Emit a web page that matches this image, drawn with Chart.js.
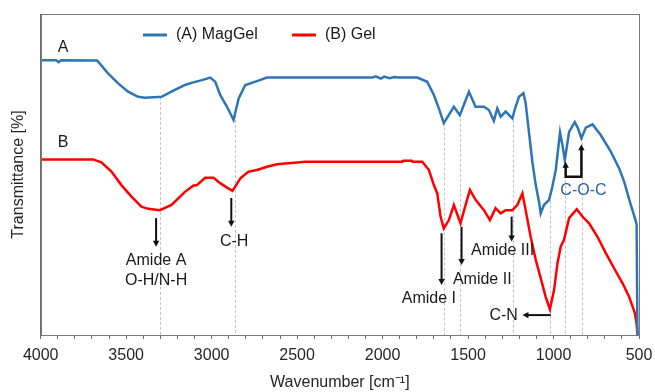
<!DOCTYPE html>
<html>
<head>
<meta charset="utf-8">
<title>FTIR spectra</title>
<script src="https://cdn.jsdelivr.net/npm/chart.js"></script>
<style>
  html, body { margin: 0; padding: 0; background: #fff; }
  #wrap { width: 655px; height: 392px; position: relative; }
</style>
</head>
<body>
<div id="wrap"><canvas id="graph"></canvas></div>
<script>
// wavenumber (cm-1) and transmittance (arbitrary, 0-100)
var magGelWn = [4000, 3910, 3895, 3881, 3670, 3606, 3547, 3489, 3430, 3391,
  3293, 3235, 3156, 3108, 3057, 3008, 2979, 2950, 2910, 2872,
  2842, 2803, 2735, 2676, 2060, 2040, 2010, 1990, 1960, 1930,
  1910, 1797, 1739, 1700, 1671, 1642, 1583, 1548, 1495, 1456,
  1407, 1378, 1349, 1329, 1309, 1280, 1241, 1222, 1202, 1176,
  1163, 1144, 1124, 1104, 1085, 1075, 1056, 1026, 1007, 987,
  962, 948, 934, 909, 876, 857, 837, 811, 772, 724,
  665, 616, 587, 548, 524, 514, 509]
var magGelT = [85.6, 85.6, 85.0, 85.6, 85.5, 81.5, 78.4, 75.8, 74.2, 73.9,
  74.2, 75.8, 77.9, 78.7, 79.4, 80.2, 78.9, 74.8, 71.1, 67.0,
  73.7, 77.9, 79.1, 80.2, 80.2, 80.6, 79.9, 80.5, 80.0, 80.4,
  80.2, 80.2, 78.9, 74.8, 70.6, 66.0, 71.1, 68.5, 75.8, 71.1,
  71.1, 70.1, 66.7, 70.6, 68.0, 69.6, 67.5, 71.1, 74.2, 75.3,
  72.2, 63.3, 54.0, 46.7, 41.5, 37.9, 40.5, 42.1, 46.2, 51.4,
  63.1, 59.2, 54.5, 63.3, 66.3, 64.4, 61.3, 64.6, 65.6, 62.3,
  57.1, 51.9, 47.8, 40.5, 36.4, 34.5, 0]

var gelWn = [4000, 3694, 3645, 3586, 3528, 3469, 3411, 3371, 3303, 3235,
  3156, 3108, 3086, 3038, 2989, 2950, 2910, 2878, 2832, 2784,
  2735, 2676, 2617, 2452, 1885, 1880, 1830, 1825, 1768, 1729,
  1700, 1680, 1661, 1642, 1612, 1583, 1544, 1520, 1489, 1456,
  1407, 1372, 1339, 1309, 1280, 1241, 1212, 1182, 1163, 1134,
  1104, 1075, 1046, 1021, 997, 977, 958, 939, 909, 864,
  831, 792, 743, 694, 646, 596, 558, 524, 514, 509]
var gelT = [54.7, 54.7, 53.8, 50.9, 46.7, 43.1, 40.0, 39.3, 38.9, 40.5,
  44.6, 46.5, 46.7, 49.0, 49.0, 47.3, 45.9, 44.9, 48.8, 50.9,
  51.4, 52.4, 53.2, 54.0, 54.0, 54.3, 54.3, 54.0, 54.0, 51.4,
  46.7, 44.1, 36.9, 33.2, 35.8, 40.5, 34.8, 39.5, 45.2, 42.1,
  38.9, 35.8, 39.5, 37.9, 38.9, 38.9, 40.5, 44.1, 38.9, 30.6,
  23.4, 17.7, 11.9, 8.0, 14.0, 22.3, 27.5, 29.6, 36.4, 39.2,
  36.9, 34.8, 30.6, 25.5, 20.8, 16.1, 11.9, 6.8, 3.6, 0]

var xTickLabels = [4000, 3500, 3000, 2500, 2000, 1500, 1000, 500]
var seriesNames = ["(A) MagGel", "(B) Gel"]

// band positions marked with dashed guide lines
var bandWn = [3300, 2865, 1640, 1545, 1235, 1020, 930, 835]

// annotation arrows: [wn1, T1, wn2, T2], head at the second point
var arrows = [
  [3325, 36.4, 3325, 27.5],
  [2885, 42.7, 2885, 33.7],
  [1655, 31.7, 1655, 15.6],
  [1538, 33.7, 1538, 21.8],
  [1245, 36.9, 1245, 29.1],
  [1016, 6.2, 1182, 6.2]
]
var labels = [
  ["Amide A", 3325, 23.1],
  ["O-H/N-H", 3325, 16.8],
  ["C-H", 2868, 29.1],
  ["Amide I", 1729, 11.4],
  ["Amide II", 1417, 17.4],
  ["Amide III", 1298, 26.3],
  ["C-N", 1292, 5.9],
  ["A", 3869, 89.4],
  ["B", 3869, 59.8]
]
// C-O-C bracket (two up arrows joined at the bottom)
var cocBracket = [[929, 54.0], [929, 49.3], [837, 49.3], [837, 59.4]]
var cocLabel = ["C-O-C", 825, 45.0]

var blue = "#2e75b6"
var red = "#ff0000"
var font = "Liberation Sans, Arial, sans-serif"

function interp(wns, ts, w) {
  for (var i = 0; i < wns.length - 1; i++) {
    if (wns[i] >= w && w >= wns[i + 1]) {
      var f = (wns[i] - w) / (wns[i] - wns[i + 1])
      return ts[i] + f * (ts[i + 1] - ts[i])
    }
  }
  return ts[ts.length - 1]
}

function toPoints(wns, ts) {
  return wns.map(function (w, i) { return { x: w, y: ts[i] } })
}

function arrowHead(ctx, x1, y1, x2, y2) {
  var a = Math.atan2(y2 - y1, x2 - x1)
  var len = 6, half = 3.2
  ctx.beginPath()
  ctx.moveTo(x2, y2)
  ctx.lineTo(x2 - len * Math.cos(a) + half * Math.sin(a), y2 - len * Math.sin(a) - half * Math.cos(a))
  ctx.lineTo(x2 - len * Math.cos(a) - half * Math.sin(a), y2 - len * Math.sin(a) + half * Math.cos(a))
  ctx.closePath()
  ctx.fill()
}

const bandsPlugin = {
  id: "bands",
  beforeDatasetsDraw(chart) {
    const ctx = chart.ctx, x = chart.scales.x, y = chart.scales.y
    ctx.save()
    ctx.strokeStyle = "#c4c4c4"
    ctx.lineWidth = 1
    ctx.setLineDash([3, 2])
    bandWn.forEach(function (w) {
      const px = Math.round(x.getPixelForValue(w)) + 0.5
      ctx.beginPath()
      ctx.moveTo(px, y.getPixelForValue(interp(magGelWn, magGelT, w)))
      ctx.lineTo(px, y.getPixelForValue(0))
      ctx.stroke()
    })
    ctx.restore()
  },
  afterDatasetsDraw(chart) {
    const ctx = chart.ctx, x = chart.scales.x, y = chart.scales.y
    const area = chart.chartArea
    ctx.save()
    // frame
    ctx.strokeStyle = "#7a7a7a"
    ctx.lineWidth = 1
    ctx.strokeRect(Math.round(area.left) + 0.5, Math.round(area.top) + 0.5,
      Math.round(area.right - area.left), Math.round(area.bottom - area.top))

    // arrows
    ctx.strokeStyle = "#111"
    ctx.fillStyle = "#111"
    ctx.lineWidth = 2
    arrows.forEach(function (a) {
      const x1 = x.getPixelForValue(a[0]), y1 = y.getPixelForValue(a[1])
      const x2 = x.getPixelForValue(a[2]), y2 = y.getPixelForValue(a[3])
      const ang = Math.atan2(y2 - y1, x2 - x1)
      ctx.beginPath()
      ctx.moveTo(x1, y1)
      ctx.lineTo(x2 - 4 * Math.cos(ang), y2 - 4 * Math.sin(ang))
      ctx.stroke()
      arrowHead(ctx, x1, y1, x2, y2)
    })
    // C-O-C bracket
    ctx.lineWidth = 2.5
    ctx.beginPath()
    cocBracket.forEach(function (p, i) {
      const px = x.getPixelForValue(p[0]), py = y.getPixelForValue(p[1])
      if (i === 0) ctx.moveTo(px, py + 4)
      else if (i === cocBracket.length - 1) ctx.lineTo(px, py + 4)
      else ctx.lineTo(px, py)
    })
    ctx.stroke()
    ;[0, cocBracket.length - 1].forEach(function (i) {
      const px = x.getPixelForValue(cocBracket[i][0]), py = y.getPixelForValue(cocBracket[i][1])
      arrowHead(ctx, px, py + 10, px, py)
    })

    // text labels
    ctx.font = "16px " + font
    ctx.textAlign = "center"
    ctx.textBaseline = "middle"
    ctx.fillStyle = "#1a1a1a"
    labels.forEach(function (l) {
      ctx.fillText(l[0], x.getPixelForValue(l[1]), y.getPixelForValue(l[2]))
    })
    ctx.fillStyle = "#2f5f9a"
    ctx.fillText(cocLabel[0], x.getPixelForValue(cocLabel[1]), y.getPixelForValue(cocLabel[2]))

    // legend
    const colors = [blue, red]
    const legendX = [143, 292]
    ctx.textAlign = "left"
    ctx.lineWidth = 3
    seriesNames.forEach(function (name, i) {
      ctx.strokeStyle = colors[i]
      ctx.beginPath()
      ctx.moveTo(legendX[i], 35)
      ctx.lineTo(legendX[i] + 24, 35)
      ctx.stroke()
      ctx.fillStyle = "#1a1a1a"
      ctx.fillText(name, legendX[i] + 33, 35)
    })
    ctx.restore()
  }
}

new Chart(document.getElementById("graph"), {
  type: "line",
  data: {
    datasets: [
      { label: seriesNames[0], data: toPoints(magGelWn, magGelT), borderColor: blue, borderWidth: 2.5, pointRadius: 0, tension: 0 },
      { label: seriesNames[1], data: toPoints(gelWn, gelT), borderColor: red, borderWidth: 2.5, pointRadius: 0, tension: 0 }
    ]
  },
  options: {
    responsive: true,
    maintainAspectRatio: false,
    animation: false,
    layout: { padding: { left: 0, right: 16, top: 14, bottom: 0 } },
    plugins: {
      legend: { display: false },
      tooltip: { enabled: false }
    },
    scales: {
      x: {
        type: "linear",
        reverse: true,
        min: 500,
        max: 4000,
        afterFit: function (axis) {
          axis.height = 57
          axis.paddingLeft = 0
          axis.paddingRight = 0
        },
        border: { display: true, color: "#6e6e6e", width: 1 },
        grid: { drawOnChartArea: false, drawTicks: true, tickLength: 4, color: "#6e6e6e" },
        ticks: {
          stepSize: 100,
          autoSkip: false,
          maxRotation: 0,
          padding: 7,
          color: "#262626",
          font: { family: font, size: 16 },
          callback: function (v) { return xTickLabels.indexOf(v) >= 0 ? String(v) : "" }
        },
        title: {
          display: true,
          text: "Wavenumber [cm\u207B\u00B9]",
          color: "#262626",
          font: { family: font, size: 16 },
          padding: { top: 0, bottom: 0 }
        }
      },
      y: {
        min: 0,
        max: 100,
        afterFit: function (axis) { axis.width = 40.7 },
        border: { display: true, color: "#6e6e6e", width: 1 },
        grid: { display: false },
        ticks: { display: false },
        title: {
          display: true,
          text: "Transmittance [%]",
          color: "#262626",
          font: { family: font, size: 16 },
          padding: { top: 9, bottom: 0 }
        }
      }
    }
  },
  plugins: [bandsPlugin]
})
</script>
</body>
</html>
